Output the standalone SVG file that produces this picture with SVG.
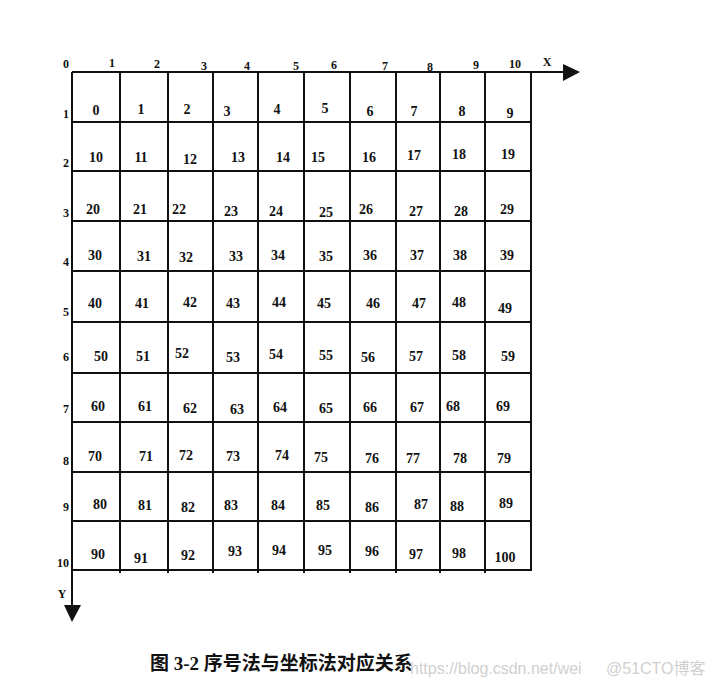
<svg xmlns="http://www.w3.org/2000/svg" width="712" height="695" viewBox="0 0 712 695">
<style>
.g{stroke:#111;stroke-width:2;fill:none}
.n{font-family:"Liberation Serif",serif;font-weight:bold;font-size:14px;fill:#111;text-anchor:middle}
.a{font-family:"Liberation Serif",serif;font-weight:bold;font-size:12px;fill:#111;text-anchor:middle}
.cap{font-family:"Liberation Serif","Noto Sans CJK SC",serif;font-weight:bold;font-size:19px;fill:#111}
.wm{font-family:"Liberation Sans","Noto Sans CJK SC",sans-serif;font-size:16px;fill:#d0d0d0}
</style>
<rect width="712" height="695" fill="#fff"/>
<g id="grid" class="g">
<path d="M120 72V573M168 72V573M213 72V573M258 72V573M304 72V573M350 72V573M396 72V573M440 72V573M485 72V573M531 72V571"/>
<path d="M72 122H531M72 171H531M72 221H531M72 271H531M72 322H531M72 373H531M72 422H531M72 472H531M72 521H531M72 570H531"/>
</g>
<g id="connectors">
<g id="x-axis"><path class="g" d="M72 72H565"/><polygon points="563,64 580,72 563,81" fill="#111"/><text class="a" x="547" y="66">X</text></g>
<g id="y-axis"><path class="g" d="M72 72V607"/><polygon points="64,605 72,622 81,605" fill="#111"/><text class="a" x="62" y="598">Y</text></g>
</g>
<g id="x-labels">
<text class="a" x="66" y="68">0</text><text class="a" x="112" y="67">1</text><text class="a" x="157" y="68">2</text><text class="a" x="204" y="70">3</text><text class="a" x="247" y="70">4</text><text class="a" x="296" y="70">5</text><text class="a" x="334" y="69">6</text><text class="a" x="385" y="70">7</text><text class="a" x="430" y="71">8</text><text class="a" x="476" y="69">9</text><text class="a" x="515" y="68">10</text>
</g>
<g id="y-labels">
<text class="a" x="66" y="118">1</text><text class="a" x="66" y="167">2</text><text class="a" x="66" y="217">3</text><text class="a" x="66" y="266">4</text><text class="a" x="66" y="316">5</text><text class="a" x="66" y="361">6</text><text class="a" x="66" y="413">7</text><text class="a" x="66" y="465">8</text><text class="a" x="66" y="511">9</text><text class="a" x="63" y="567">10</text>
</g>
<g id="cells">
<text class="n" x="96" y="115">0</text><text class="n" x="141" y="114">1</text><text class="n" x="187" y="114">2</text><text class="n" x="227" y="116">3</text><text class="n" x="277" y="114">4</text><text class="n" x="325" y="113">5</text><text class="n" x="370" y="116">6</text><text class="n" x="414" y="116">7</text><text class="n" x="462" y="116">8</text><text class="n" x="510" y="118">9</text>
<text class="n" x="96" y="162">10</text><text class="n" x="141" y="162">11</text><text class="n" x="190" y="164">12</text><text class="n" x="238" y="162">13</text><text class="n" x="283" y="162">14</text><text class="n" x="318" y="162">15</text><text class="n" x="369" y="162">16</text><text class="n" x="414" y="160">17</text><text class="n" x="459" y="159">18</text><text class="n" x="508" y="159">19</text>
<text class="n" x="93" y="214">20</text><text class="n" x="140" y="214">21</text><text class="n" x="179" y="214">22</text><text class="n" x="231" y="216">23</text><text class="n" x="276" y="216">24</text><text class="n" x="326" y="217">25</text><text class="n" x="366" y="214">26</text><text class="n" x="416" y="216">27</text><text class="n" x="461" y="216">28</text><text class="n" x="507" y="214">29</text>
<text class="n" x="95" y="260">30</text><text class="n" x="144" y="261">31</text><text class="n" x="186" y="262">32</text><text class="n" x="236" y="261">33</text><text class="n" x="278" y="260">34</text><text class="n" x="326" y="261">35</text><text class="n" x="370" y="260">36</text><text class="n" x="417" y="260">37</text><text class="n" x="460" y="260">38</text><text class="n" x="507" y="260">39</text>
<text class="n" x="95" y="308">40</text><text class="n" x="142" y="308">41</text><text class="n" x="190" y="307">42</text><text class="n" x="233" y="308">43</text><text class="n" x="279" y="307">44</text><text class="n" x="324" y="308">45</text><text class="n" x="373" y="308">46</text><text class="n" x="419" y="308">47</text><text class="n" x="459" y="307">48</text><text class="n" x="505" y="313">49</text>
<text class="n" x="101" y="361">50</text><text class="n" x="143" y="361">51</text><text class="n" x="182" y="358">52</text><text class="n" x="233" y="362">53</text><text class="n" x="276" y="359">54</text><text class="n" x="326" y="360">55</text><text class="n" x="368" y="362">56</text><text class="n" x="416" y="361">57</text><text class="n" x="459" y="360">58</text><text class="n" x="508" y="361">59</text>
<text class="n" x="98" y="411">60</text><text class="n" x="145" y="411">61</text><text class="n" x="190" y="413">62</text><text class="n" x="237" y="414">63</text><text class="n" x="280" y="412">64</text><text class="n" x="326" y="413">65</text><text class="n" x="370" y="412">66</text><text class="n" x="417" y="412">67</text><text class="n" x="453" y="411">68</text><text class="n" x="503" y="411">69</text>
<text class="n" x="95" y="461">70</text><text class="n" x="146" y="461">71</text><text class="n" x="186" y="460">72</text><text class="n" x="233" y="461">73</text><text class="n" x="282" y="460">74</text><text class="n" x="321" y="462">75</text><text class="n" x="372" y="463">76</text><text class="n" x="413" y="463">77</text><text class="n" x="460" y="463">78</text><text class="n" x="504" y="463">79</text>
<text class="n" x="100" y="509">80</text><text class="n" x="145" y="510">81</text><text class="n" x="188" y="512">82</text><text class="n" x="231" y="510">83</text><text class="n" x="278" y="510">84</text><text class="n" x="323" y="510">85</text><text class="n" x="372" y="512">86</text><text class="n" x="421" y="509">87</text><text class="n" x="457" y="511">88</text><text class="n" x="506" y="508">89</text>
<text class="n" x="98" y="559">90</text><text class="n" x="141" y="563">91</text><text class="n" x="188" y="560">92</text><text class="n" x="235" y="556">93</text><text class="n" x="279" y="555">94</text><text class="n" x="325" y="555">95</text><text class="n" x="372" y="556">96</text><text class="n" x="416" y="559">97</text><text class="n" x="459" y="558">98</text><text class="n" x="505" y="562">100</text>
</g>
<text class="cap" x="150" y="670">图 3-2 序号法与坐标法对应关系</text>
<text class="wm" x="410" y="674">https://blog.csdn.net/wei</text>
<text class="wm" x="606" y="674">@51CTO博客</text>
</svg>
